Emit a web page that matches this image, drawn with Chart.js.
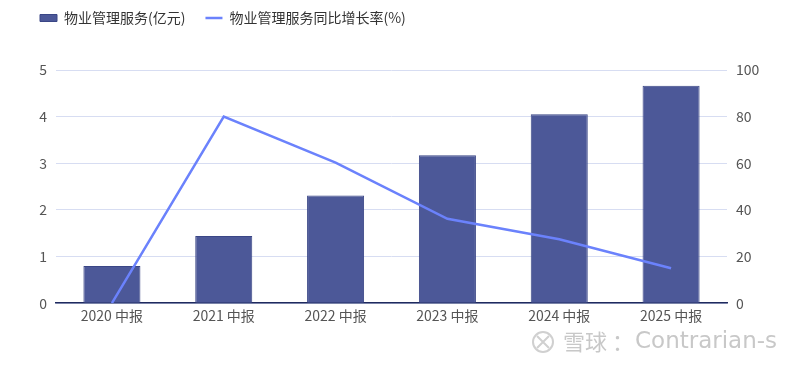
<!DOCTYPE html>
<html>
<head>
<meta charset="utf-8">
<script src="https://cdn.jsdelivr.net/npm/chart.js@4"></script>
<style>
  html, body { margin: 0; padding: 0; background: #fff; }
  #wrap { width: 800px; height: 367px; }
</style>
</head>
<body>
<div id="wrap"><canvas id="chart" width="800" height="367"></canvas></div>
<script>
const categories = ["2020 中报", "2021 中报", "2022 中报", "2023 中报", "2024 中报", "2025 中报"];
const serviceRevenue = [0.80, 1.44, 2.31, 3.17, 4.05, 4.66];
const growthRate = [0, 80, 60.3, 36.2, 27.4, 15.0];
const leftTicks = [0, 1, 2, 3, 4, 5];
const rightTicks = [0, 20, 40, 60, 80, 100];

const FONT = "'Noto Sans CJK SC', 'Noto Sans', sans-serif";

// push the plot area down below the legend
const legendSpace = {
    id: "legendSpace",
    beforeUpdate(chart) {
        const legend = chart.legend;
        if (!legend || legend._spaced) return;
        const fit = legend.fit;
        legend.fit = function () {
            fit.call(this);
            this.height += 35;
        };
        legend._spaced = true;
    }
};

// watermark in the bottom right corner
const watermark = {
    id: "watermark",
    afterDraw(chart) {
        const ctx = chart.ctx;
        ctx.save();
        ctx.strokeStyle = "#d0d0d0";
        ctx.lineWidth = 2;
        ctx.beginPath();
        ctx.arc(543, 342, 10, 0, Math.PI * 2);
        ctx.stroke();
        ctx.beginPath();
        ctx.moveTo(537, 336); ctx.lineTo(549, 348);
        ctx.moveTo(549, 336); ctx.lineTo(537, 348);
        ctx.stroke();
        ctx.fillStyle = "#c8c8c8";
        ctx.textBaseline = "middle";
        ctx.font = "22px " + FONT;
        ctx.fillText("雪球", 563, 342);
        ctx.fillText("：", 612, 342);
        ctx.font = "23px 'DejaVu Sans', sans-serif";
        ctx.fillText("Contrarian-s", 635, 342);
        ctx.restore();
    }
};

new Chart(document.getElementById("chart").getContext("2d"), {
    data: {
        labels: categories,
        datasets: [{
            type: "bar",
            label: "物业管理服务(亿元)",
            data: serviceRevenue,
            backgroundColor: "#4c5898",
            borderColor: "#3a4686",
            borderWidth: 1,
            categoryPercentage: 1,
            barPercentage: 0.51,
            yAxisID: "y",
            order: 1,
            pointStyle: "rect"
        }, {
            type: "line",
            label: "物业管理服务同比增长率(%)",
            data: growthRate,
            borderColor: "#6b82fc",
            backgroundColor: "#6b82fc",
            borderWidth: 2.5,
            pointRadius: 0,
            pointHoverRadius: 0,
            tension: 0,
            yAxisID: "y1",
            order: 0,
            pointStyle: "line"
        }]
    },
    options: {
        responsive: false,
        animation: false,
        layout: { padding: { top: -9, left: 20, right: 20, bottom: 39 } },
        plugins: {
            tooltip: { enabled: false },
            legend: {
                position: "top",
                align: "start",
                labels: {
                    usePointStyle: true,
                    pointStyleWidth: 17,
                    boxHeight: 7,
                    padding: 20,
                    color: "#333",
                    font: { family: FONT, size: 14 },
                    sort: (a, b) => a.datasetIndex - b.datasetIndex
                }
            }
        },
        scales: {
            x: {
                grid: { display: false, drawTicks: false },
                border: { display: true, color: "#1f2a5e", width: 1.5 },
                ticks: { color: "#555", padding: 4, font: { family: FONT, size: 14 } }
            },
            y: {
                position: "left",
                min: 0,
                max: 5,
                afterBuildTicks: (axis) => { axis.ticks = leftTicks.map(v => ({ value: v })); },
                afterFit: (axis) => { axis.width = 36; },
                grid: { color: "#d7ddf2", drawTicks: false },
                border: { display: false },
                ticks: { color: "#555", padding: 9, font: { family: FONT, size: 14 } }
            },
            y1: {
                position: "right",
                min: 0,
                max: 100,
                afterBuildTicks: (axis) => { axis.ticks = rightTicks.map(v => ({ value: v })); },
                afterFit: (axis) => { axis.width = 53; },
                grid: { display: false, drawTicks: false },
                border: { display: false },
                ticks: { color: "#555", padding: 9, font: { family: FONT, size: 14 } }
            }
        }
    },
    plugins: [legendSpace, watermark]
});
</script>
</body>
</html>
